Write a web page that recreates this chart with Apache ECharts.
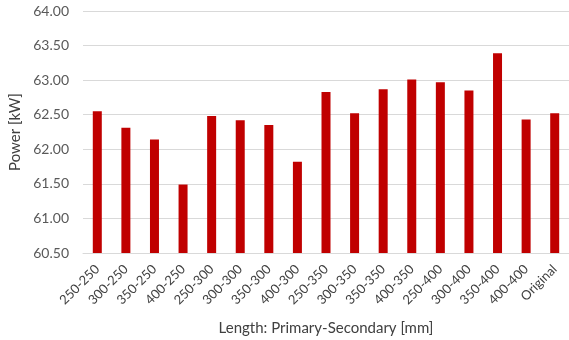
<!DOCTYPE html>
<html>
<head>
<meta charset="utf-8">
<script src="https://cdn.jsdelivr.net/npm/echarts@6/dist/echarts.min.js"></script>
<style>html,body{margin:0;padding:0;background:#fff}#c{width:569px;height:340px}</style>
</head>
<body>
<div id="c"></div>
<script>
var categories = ["250-250","300-250","350-250","400-250","250-300","300-300","350-300","400-300","250-350","300-350","350-350","400-350","250-400","300-400","350-400","400-400","Original"];
var powerValues = [62.55, 62.31, 62.14, 61.49, 62.48, 62.42, 62.35, 61.82, 62.83, 62.52, 62.87, 63.01, 62.97, 62.85, 63.39, 62.43, 62.52];
var yMin = 60.5, yMax = 64.0, yStep = 0.5;
var xTitle = "Length: Primary-Secondary [mm]";
var yTitle = "Power [kW]";

var chart = echarts.init(document.getElementById('c'), null, {renderer: 'canvas'});
var font = 'Lato, "Open Sans", sans-serif';
chart.setOption({
  animation: false,
  grid: {left: 83, right: 0, top: 11, bottom: 87, containLabel: false, outerBoundsMode: 'none'},
  xAxis: {
    type: 'category',
    data: categories,
    name: xTitle,
    nameLocation: 'middle',
    nameGap: 68,
    nameTextStyle: {fontFamily: font, fontSize: 15, color: '#404040'},
    axisLine: {show: true, lineStyle: {color: '#d9d9d9', width: 1}},
    axisTick: {show: false},
    axisLabel: {rotate: 45, interval: 0, margin: 14, fontFamily: font, fontSize: 13, color: '#404040'}
  },
  yAxis: {
    type: 'value',
    min: yMin, max: yMax, interval: yStep,
    name: yTitle,
    nameLocation: 'middle',
    nameGap: 52,
    nameTextStyle: {fontFamily: font, fontSize: 15, color: '#404040'},
    axisLine: {show: false},
    axisTick: {show: false},
    splitLine: {lineStyle: {color: '#d9d9d9', width: 1}},
    axisLabel: {margin: 14, fontFamily: font, fontSize: 14, color: '#595959', formatter: function(v){return v.toFixed(2);}}
  },
  series: [{
    type: 'bar',
    data: powerValues,
    barWidth: 9,
    itemStyle: {color: '#C00000'}
  }]
});
</script>
</body>
</html>
